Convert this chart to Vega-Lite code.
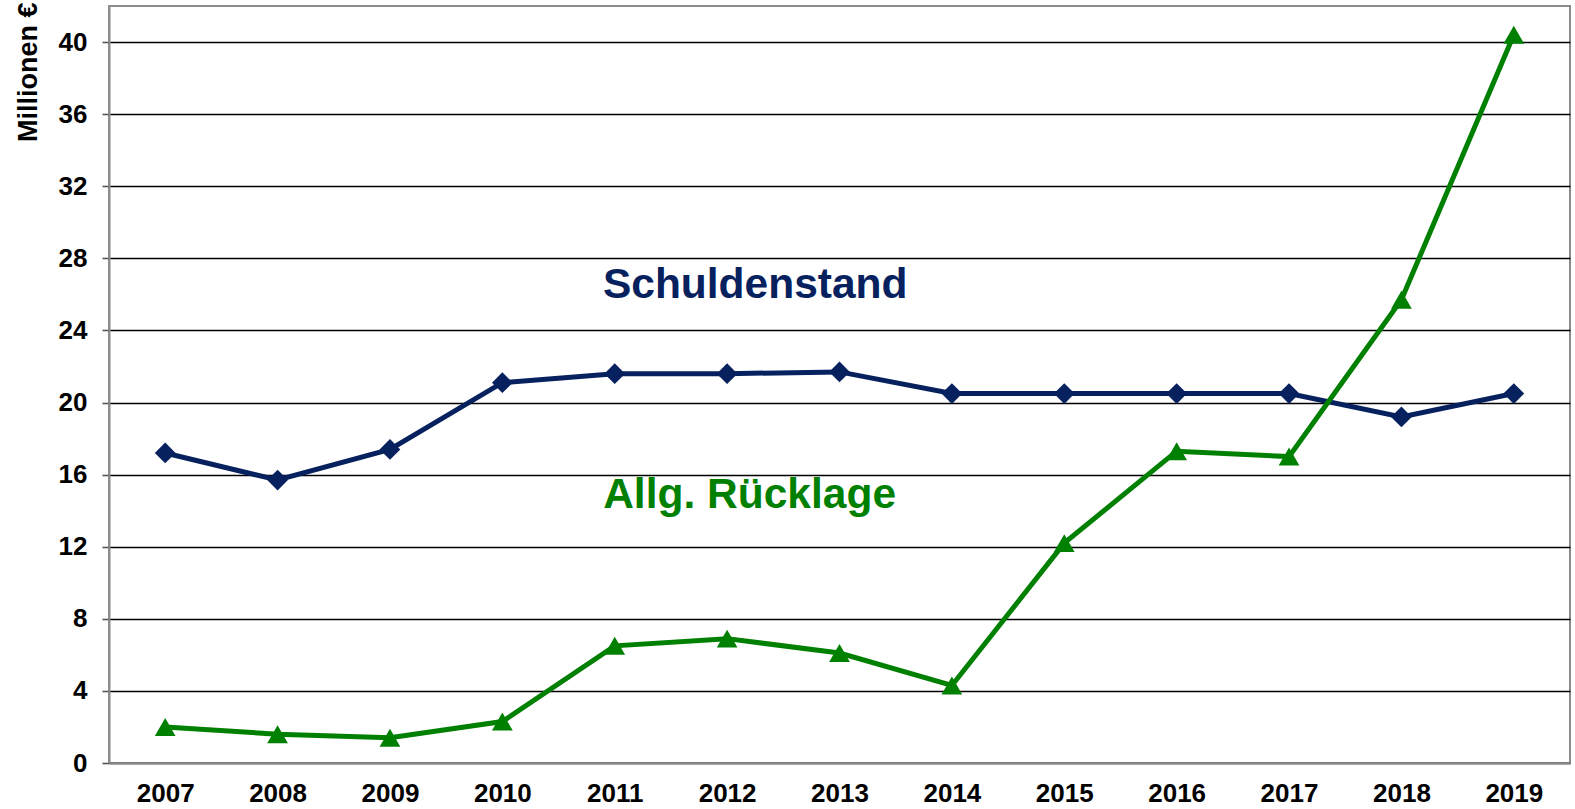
{
  "$schema": "https://vega.github.io/schema/vega-lite/v6.json",
  "width": 1461,
  "height": 757,
  "autosize": {"type": "none"},
  "padding": {"left": 109, "top": 6, "right": 5, "bottom": 46},
  "background": "white",
  "config": {
    "view": {"stroke": "#8c8c8c", "strokeWidth": 2},
    "font": "Liberation Sans"
  },
  "layer": [
    {
      "data": {
        "values": [
          {"year": 2007, "series": "Schuldenstand", "value": 17.2},
          {"year": 2008, "series": "Schuldenstand", "value": 15.7},
          {"year": 2009, "series": "Schuldenstand", "value": 17.4},
          {"year": 2010, "series": "Schuldenstand", "value": 21.1},
          {"year": 2011, "series": "Schuldenstand", "value": 21.6},
          {"year": 2012, "series": "Schuldenstand", "value": 21.6},
          {"year": 2013, "series": "Schuldenstand", "value": 21.7},
          {"year": 2014, "series": "Schuldenstand", "value": 20.5},
          {"year": 2015, "series": "Schuldenstand", "value": 20.5},
          {"year": 2016, "series": "Schuldenstand", "value": 20.5},
          {"year": 2017, "series": "Schuldenstand", "value": 20.5},
          {"year": 2018, "series": "Schuldenstand", "value": 19.2},
          {"year": 2019, "series": "Schuldenstand", "value": 20.5},
          {"year": 2007, "series": "Allg. Rücklage", "value": 2.0},
          {"year": 2008, "series": "Allg. Rücklage", "value": 1.6},
          {"year": 2009, "series": "Allg. Rücklage", "value": 1.4},
          {"year": 2010, "series": "Allg. Rücklage", "value": 2.3},
          {"year": 2011, "series": "Allg. Rücklage", "value": 6.5},
          {"year": 2012, "series": "Allg. Rücklage", "value": 6.9},
          {"year": 2013, "series": "Allg. Rücklage", "value": 6.1},
          {"year": 2014, "series": "Allg. Rücklage", "value": 4.3},
          {"year": 2015, "series": "Allg. Rücklage", "value": 12.2},
          {"year": 2016, "series": "Allg. Rücklage", "value": 17.3},
          {"year": 2017, "series": "Allg. Rücklage", "value": 17.0},
          {"year": 2018, "series": "Allg. Rücklage", "value": 25.7},
          {"year": 2019, "series": "Allg. Rücklage", "value": 40.4}
        ]
      },
      "mark": {"type": "line", "strokeWidth": 5, "point": {"filled": true, "size": 430, "opacity": 1}},
      "encoding": {
        "x": {
          "field": "year", "type": "quantitative",
          "scale": {"domain": [2006.5, 2019.5], "nice": false, "zero": false},
          "axis": {
            "values": [2007, 2008, 2009, 2010, 2011, 2012, 2013, 2014, 2015, 2016, 2017, 2018, 2019],
            "format": "d", "title": null, "grid": false, "ticks": false,
            "domainColor": "#8c8c8c", "domainWidth": 2,
            "labelFontSize": 26, "labelFontWeight": "bold", "labelColor": "black",
            "labelPadding": 17
          }
        },
        "y": {
          "field": "value", "type": "quantitative",
          "scale": {"domain": [0, 42], "nice": false},
          "axis": {
            "values": [0, 4, 8, 12, 16, 20, 24, 28, 32, 36, 40],
            "title": "Millionen €", "titleFontSize": 27, "titleFontWeight": "bold",
            "titleColor": "black", "titleAngle": -90, "titleAlign": "right",
            "titleBaseline": "alphabetic", "titleX": -73, "titleY": -4,
            "grid": true, "gridColor": "black", "gridWidth": 1.6,
            "tickColor": "#555", "tickSize": 7, "tickWidth": 1.6,
            "domainColor": "#8c8c8c", "domainWidth": 2,
            "labelFontSize": 26, "labelFontWeight": "bold", "labelColor": "black",
            "labelPadding": 15
          }
        },
        "color": {
          "field": "series", "type": "nominal",
          "scale": {"domain": ["Schuldenstand", "Allg. Rücklage"], "range": ["#06215e", "#008000"]},
          "legend": null
        },
        "shape": {
          "field": "series", "type": "nominal",
          "scale": {"domain": ["Schuldenstand", "Allg. Rücklage"], "range": ["diamond", "triangle-up"]},
          "legend": null
        }
      }
    },
    {
      "data": {
        "values": [
          {"label": "Schuldenstand", "x": 2012.25, "y": 26.5},
          {"label": "Allg. Rücklage", "x": 2012.2, "y": 14.85}
        ]
      },
      "mark": {"type": "text", "fontSize": 42.5, "fontWeight": "bold", "align": "center", "baseline": "middle"},
      "encoding": {
        "x": {"field": "x", "type": "quantitative"},
        "y": {"field": "y", "type": "quantitative"},
        "text": {"field": "label", "type": "nominal"},
        "color": {"field": "label", "type": "nominal", "legend": null}
      }
    }
  ]
}
